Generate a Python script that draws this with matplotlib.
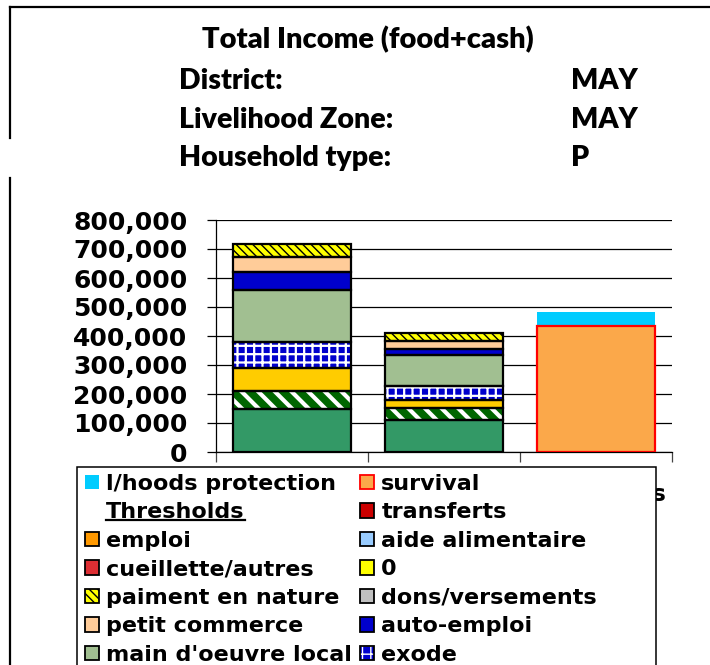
import matplotlib
matplotlib.use("Agg")
import matplotlib.pyplot as plt
import numpy as np
from matplotlib.patches import Patch, Rectangle
from matplotlib.lines import Line2D
from matplotlib.legend_handler import HandlerTuple

# ---------------- data ----------------
categories = ["", "", "Thresholds"]

# stacked series, bottom -> top (values per bar)
s_green        = [150000, 112000, 0]      # bottom green (legend entry not visible)
s_green_hatch  = [62000, 40000, 0]        # hatched green (legend entry not visible)
s_gold         = [78000, 28000, 0]        # gold (legend entry not visible)
exode          = [89000, 46000, 0]
main_oeuvre    = [179000, 108000, 0]
auto_emploi    = [61000, 22000, 0]
petit_commerce = [52000, 27000, 0]
dons           = [0, 0, 0]
paiment        = [45000, 26000, 0]
zero_series    = [0, 0, 0]
cueillette     = [0, 0, 0]
aide_alim      = [0, 0, 0]
emploi         = [0, 0, 0]
transferts     = [0, 0, 0]
survival       = [0, 0, 436000]
lhoods         = [0, 0, 47000]

yticks = [0, 100000, 200000, 300000, 400000, 500000, 600000, 700000, 800000]

# (values, label, face, hatch, hatchcolor, hatch_lw, edgecolor)
series = [
    (s_green, None, "#339966", None, None, 1, "black"),
    (s_green_hatch, None, "#006600", "\\\\", "white", 3.0, "black"),
    (s_gold, None, "#FFCC00", None, None, 1, "black"),
    (exode, "exode", "#0000CC", "++", "white", 1.6, "black"),
    (main_oeuvre, "main d'oeuvre local", "#A1BF91", None, None, 1, "black"),
    (auto_emploi, "auto-emploi", "#0000CC", None, None, 1, "black"),
    (petit_commerce, "petit commerce", "#FFCC99", None, None, 1, "black"),
    (dons, "dons/versements", "#C0C0C0", None, None, 1, "black"),
    (paiment, "paiment en nature", "#FFFF00", "\\\\\\\\", "black", 1.0, "black"),
    (zero_series, "0", "#FFFF00", None, None, 1, "black"),
    (cueillette, "cueillette/autres", "#DD2E33", None, None, 1, "black"),
    (aide_alim, "aide alimentaire", "#99CCFF", None, None, 1, "black"),
    (emploi, "emploi", "#FF9900", None, None, 1, "black"),
    (transferts, "transferts", "#CC0000", None, None, 1, "black"),
    (survival, "survival", "#FBA84A", None, None, 1, "#FF0000"),
    (lhoods, "l/hoods protection", "#00CCFF", None, None, 1, "none"),
]

# ---------------- figure ----------------
W, H = 710, 665
fig = plt.figure(figsize=(W / 100, H / 100), dpi=100)
BOLD = ["DejaVu Sans"]

ax_l, ax_r, ax_t, ax_b = 216, 672, 220, 452
ax = fig.add_axes([ax_l / W, 1 - ax_b / H, (ax_r - ax_l) / W, (ax_b - ax_t) / H])

x = np.arange(len(categories))
bw = 0.77
bottom = np.zeros(len(categories))
for vals, label, face, hatch, hcol, hlw, ecol in series:
    vals = np.array(vals, dtype=float)
    idx = vals > 0
    if idx.any():
        with plt.rc_context({"hatch.linewidth": hlw}):
            bars = ax.bar(x[idx], vals[idx], bw, bottom=bottom[idx], color=face,
                          hatch=hatch, edgecolor=(hcol if hatch else face),
                          linewidth=0, zorder=2)
        for b in bars:
            try:
                b.set_hatch_linewidth(hlw)
            except Exception:
                pass
        if ecol != "none":
            ax.bar(x[idx], vals[idx], bw, bottom=bottom[idx], fill=False,
                   edgecolor=ecol, linewidth=1.6, zorder=3)
    bottom += vals

ax.set_xlim(-0.5, len(categories) - 0.5)
ax.set_ylim(0, 800000)
ax.set_yticks(yticks)
ax.set_yticklabels([f"{v:,}" for v in yticks], fontfamily=BOLD, fontweight="bold", fontsize=18)
ax.yaxis.grid(True, color="black", linewidth=0.9, zorder=0)
ax.set_axisbelow(True)
ax.tick_params(axis="y", direction="out", length=6.5, width=0.9, pad=14, colors="black")
ax.set_xticks(x)
ax.set_xticklabels(categories, fontfamily=BOLD, fontweight="bold", fontsize=16.5)
ax.tick_params(axis="x", which="major", length=0, pad=22)
ax.set_xticks(np.arange(-0.5, len(categories)), minor=True)
ax.tick_params(axis="x", which="minor", direction="out", length=7.5, width=0.9, color="#444444")
for s in ("top", "right"):
    ax.spines[s].set_visible(False)
for s in ("left", "bottom"):
    ax.spines[s].set_linewidth(0.9)
    ax.spines[s].set_color("black")

# ---------------- header ----------------
def fy(py):
    return 1 - py / H

def fx(px):
    return px / W

fig.add_artist(Line2D([fx(10), fx(710)], [fy(7), fy(7)], color="black", linewidth=1.6))
fig.add_artist(Line2D([fx(10), fx(10)], [fy(7), fy(138)], color="black", linewidth=1.6))
fig.add_artist(Line2D([fx(10), fx(10)], [fy(178), fy(665)], color="black", linewidth=1.6))

HF = ["Lato", "DejaVu Sans"]
fig.text(fx(368), fy(40), "Total Income (food+cash)", ha="center", va="center",
         fontfamily=HF, fontweight="heavy", fontsize=21)
rows = [("District:", "MAY", 81), ("Livelihood Zone:", "MAY", 120), ("Household type:", "P", 158)]
for lab, val, py in rows:
    fig.text(fx(179), fy(py), lab, ha="left", va="center", fontfamily=HF, fontweight="heavy", fontsize=20.5)
    fig.text(fx(571), fy(py), val, ha="left", va="center", fontfamily=HF, fontweight="heavy", fontsize=20.5)

# ---------------- legend ----------------
frame = Rectangle((fx(77), fy(700)), fx(656) - fx(77), fy(467) - fy(700),
                  transform=fig.transFigure, facecolor="white", edgecolor="black",
                  linewidth=1.1, zorder=4)
fig.add_artist(frame)

def handle(label):
    for vals, lab, face, hatch, hcol, hlw, ecol in series:
        if lab == label:
            with plt.rc_context({"hatch.linewidth": hlw}):
                fill = Patch(facecolor=face, hatch=hatch,
                             edgecolor=(hcol if hatch else face), linewidth=0)
            try:
                fill.set_hatch_linewidth(hlw)
            except Exception:
                pass
            edge = Patch(fill=False, edgecolor=ecol,
                         linewidth=(0 if ecol == "none" else 1.3))
            return (fill, edge)
    return Patch(facecolor="none", edgecolor="none", linewidth=0)

col1 = ["l/hoods protection", "Thresholds", "emploi", "cueillette/autres",
        "paiment en nature", "petit commerce", "main d'oeuvre local"]
col2 = ["survival", "transferts", "aide alimentaire", "0",
        "dons/versements", "auto-emploi", "exode"]
labels = col1 + col2
handles = [handle(l) for l in labels]

leg = fig.legend(handles, labels, ncol=2, loc="upper left",
                 bbox_to_anchor=(fx(85), fy(474)), frameon=False, borderpad=0,
                 borderaxespad=0,
                 prop={"family": BOLD, "weight": "bold", "size": 16},
                 handlelength=0.62, handleheight=0.62, handletextpad=0.34,
                 labelspacing=0.38, columnspacing=0.35,
                 handler_map={tuple: HandlerTuple(ndivide=1, pad=0)})
leg.set_zorder(5)

# underline "Thresholds"
fig.canvas.draw()
for t in leg.get_texts():
    if t.get_text() == "Thresholds":
        bb = t.get_window_extent()
        fig.add_artist(Line2D([bb.x0 / W, bb.x1 / W], [(bb.y0 + 2) / H, (bb.y0 + 2) / H],
                              color="black", linewidth=1.6, zorder=6))

fig.savefig("out.png", dpi=100)
